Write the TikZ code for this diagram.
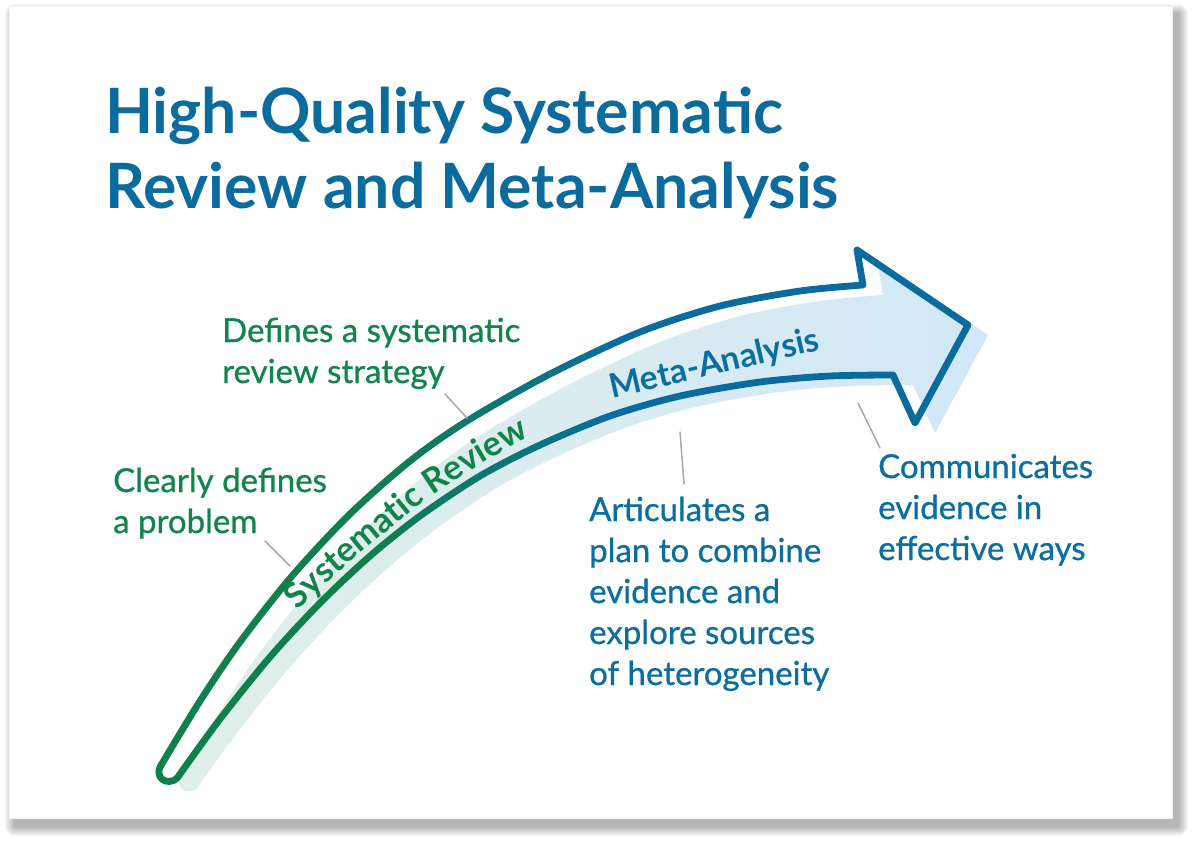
\documentclass[tikz,border=0pt]{standalone}
\usepackage{fontspec}
\setmainfont{Lato}
\newfontfamily\labelfont{Lato}[FakeBold=0.8]
\usetikzlibrary{decorations.text}

\definecolor{titleblue}{HTML}{0A6B9C}
\definecolor{srgreen}{HTML}{11844B}
\definecolor{mablue}{HTML}{0B6EA0}
\definecolor{edgegreen}{HTML}{0F7F4E}
\definecolor{edgeblue}{HTML}{0A6C9E}
\definecolor{shgreen}{HTML}{E0EFE8}
\definecolor{shmid}{HTML}{D6EAEE}
\definecolor{shblue}{HTML}{D2E8F8}
\definecolor{leadgray}{HTML}{A8A8A8}

% outline of the bent arrow, in pixel units
\newcommand{\arrowoutline}{%
  (863,285) -- (857,250) -- (968,325) -- (915,423) -- (893,375)
  -- plot[smooth] coordinates {(893,375) (830,376) (760,382) (680,396)
     (610,416) (540,445) (480,476) (420,516) (370,556) (320,603)
     (270,657) (220,719) (180,774)}
  .. controls (174,787) and (154,782) .. (160,767)
  -- plot[smooth] coordinates {(160,767) (200,701) (240,642) (292,576)
     (350,514) (410,461) (467,421) (550,374) (640,332) (720,306)
     (800,291) (863,285)}
  -- cycle}

\begin{document}
\begin{tikzpicture}[
  x=1pt, y=-1pt,
  line cap=round,
  line join=round,
  outline/.style={line width=6.8pt},
  leader/.style={leadgray, line width=1.5pt},
  heading/.style={titleblue, anchor=base west, align=left, inner sep=0pt,
    font=\fontsize{62.5}{75}\selectfont\bfseries},
  greenlabel/.style={srgreen, anchor=base west, align=left, inner sep=0pt,
    font=\labelfont\fontsize{33}{41}\selectfont},
  bluelabel/.style={mablue, anchor=base west, align=left, inner sep=0pt,
    font=\labelfont\fontsize{33}{41}\selectfont}
]

% ------------------------------------------------------------------
% Card
% ------------------------------------------------------------------
\fill[white] (0,0) rectangle (1194,847);
\useasboundingbox (0,0) rectangle (1194,847);
\foreach \k in {1,...,10}
  \fill[black, opacity=0.03, rounded corners=\k pt]
    ({15-\k},{14-\k}) rectangle ({1178+\k},{826+\k});
\fill[white, draw=black!5, line width=0.8pt] (9,6) rectangle (1172,818);

\node[heading] (title) at (105,208) {High-Quality Systematic\\Review and Meta-Analysis};

% ------------------------------------------------------------------
% Arrow
% ------------------------------------------------------------------
\shade[left color=shgreen, middle color=shmid, right color=shblue,
  shift={(20,10)}] \arrowoutline;

\begin{scope}
  \clip (0,0) rectangle (380,847);
  \draw[outline, edgegreen] \arrowoutline;
\end{scope}
\foreach \i in {0,...,11}{
  \pgfmathsetmacro\xa{380+20*\i}
  \pgfmathtruncatemacro\mix{100-(\i+0.5)*100/12}
  \begin{scope}
    \clip (\xa,0) rectangle ({\xa+20.5},847);
    \draw[outline, edgegreen!\mix!edgeblue] \arrowoutline;
  \end{scope}
}
\begin{scope}
  \clip (620,0) rectangle (1194,847);
  \draw[outline, edgeblue] \arrowoutline;
\end{scope}

\path[decorate, decoration={text along path, text color=srgreen,
    text={|\fontsize{34.5}{34.5}\selectfont\bfseries|Systematic Review}}]
  plot[smooth] coordinates {(298,610) (340,571) (383,535) (430,497)
    (483,463) (540,432) (620,402)};
\path[decorate, decoration={text along path, text color=mablue,
    text={|\fontsize{33.5}{33.5}\selectfont\bfseries|Meta-Analysis}}]
  plot[smooth] coordinates {(612,398) (700,378) (760,364) (830,348) (900,336)};

% ------------------------------------------------------------------
% Labels
% ------------------------------------------------------------------
\node[greenlabel] (problem) at (113,533) {Clearly defines\\a problem};
\node[greenlabel] (strategy) at (222,383) {Defines a systematic\\review strategy};
\node[bluelabel] (combine) at (589,685)
  {Articulates a\\plan to combine\\evidence and\\explore sources\\of heterogeneity};
\node[bluelabel] (communicate) at (878,560) {Communicates\\evidence in\\effective ways};

\coordinate (problemtip) at (265,541);
\coordinate (problemend) at (290,566);
\coordinate (strategytip) at (445,394);
\coordinate (strategyend) at (467,418);
\coordinate (combinetip) at (684,484);
\coordinate (combineend) at (680,432);
\coordinate (communicatetip) at (880,448);
\coordinate (communicateend) at (858,403);

\draw[leader] (problemtip) -- (problemend);
\draw[leader] (strategytip) -- (strategyend);
\draw[leader] (combinetip) -- (combineend);
\draw[leader] (communicatetip) -- (communicateend);

\end{tikzpicture}
\end{document}
